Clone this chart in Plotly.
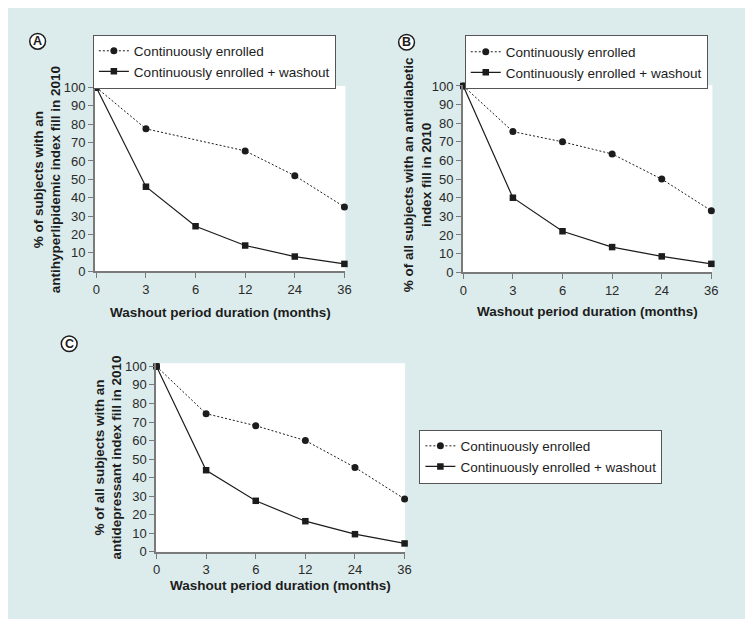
import plotly.graph_objects as go

# Page is 753x627; the browser's default 8px body margin surrounds the figure.
PAGE_W, PAGE_H, OFF = 753, 627, 8
W, H = PAGE_W - 2 * OFF, PAGE_H - 2 * OFF

months = ["0", "3", "6", "12", "24", "36"]
y_ticks = [0, 10, 20, 30, 40, 50, 60, 70, 80, 90, 100]

series_names = ["Continuously enrolled", "Continuously enrolled + washout"]

a_cont = [100, 77.5, None, 65.5, 52, 35]
a_wash = [100, 46, 24.5, 14, 8, 4]
b_cont = [100, 75.5, 70, 63.5, 50, 33]
b_wash = [100, 40, 22, 13.5, 8.5, 4.5]
c_cont = [100, 74.5, 68, 60, 45.5, 28.5]
c_wash = [100, 44, 27.5, 16.5, 9.5, 4.5]

x_title = "Washout period duration (months)"
y_titles = [
    "% of subjects with an<br>antihyperlipidemic index fill in 2010",
    "% of all subjects with an antidiabetic<br>index fill in 2010",
    "% of all subjects with an<br>antidepressant index fill in 2010",
]
panel_letters = ["A", "B", "C"]

FONT = "Liberation Sans, Arial, Helvetica, sans-serif"
INK = "#1c1c1c"
AXIS = "#7a7a7a"
TEAL = "#dcecec"


def px_x(p):
    return (p - OFF) / W


def px_y(p):
    return 1 - (p - OFF) / H


fig = go.Figure()

panels = [
    (a_cont, a_wash, "x", "y", "legend"),
    (b_cont, b_wash, "x2", "y2", "legend2"),
    (c_cont, c_wash, "x3", "y3", "legend3"),
]

for cont, wash, xa, ya, lg in panels:
    fig.add_trace(go.Scatter(
        x=months, y=cont, name=series_names[0], mode="lines+markers",
        xaxis=xa, yaxis=ya, legend=lg, connectgaps=True, cliponaxis=False,
        line=dict(color=INK, width=1, dash="2px,2px"),
        marker=dict(symbol="circle", size=7, color=INK),
    ))
    fig.add_trace(go.Scatter(
        x=months, y=wash, name=series_names[1], mode="lines+markers",
        xaxis=xa, yaxis=ya, legend=lg, cliponaxis=False,
        line=dict(color=INK, width=1.2),
        marker=dict(symbol="square", size=6.5, color=INK),
    ))

# geometry (page pixels): x-left, x-right, y-top, y-bottom, x-range, y-range
geo = [
    (93, 347, 80.7, 270.7, [-0.03, 5.02], [0, 100.85]),
    (466, 719, 80.0, 271.7, [-0.01, 5.02], [0, 100.4]),
    (155, 407.5, 365.0, 558.3, [-0.01, 5.01], [0, 101.7]),
]

axis_common = dict(
    showline=True, linecolor=AXIS, linewidth=1.5, ticks="outside", ticklen=5,
    tickwidth=1.2, tickcolor=AXIS, showgrid=False, zeroline=False,
    tickfont=dict(family=FONT, size=13, color="#2a2a2a"), fixedrange=True,
)

for i, (xl, xr, yt, yb, xr_, yr_) in enumerate(geo):
    sfx = "" if i == 0 else str(i + 1)
    fig.update_layout(**{
        "xaxis" + sfx: dict(
            domain=[px_x(xl), px_x(xr)], anchor="y" + sfx, type="category",
            range=xr_, categoryorder="array", categoryarray=months, **axis_common),
        "yaxis" + sfx: dict(
            domain=[px_y(yb), px_y(yt)], anchor="x" + sfx, range=yr_,
            tickvals=y_ticks, **axis_common),
    })

annotations = []
for cx, cy in [(220, 313), (592, 312), (281, 593)]:
    annotations.append(dict(
        text="<b>" + x_title + "</b>", x=px_x(cx), y=px_y(cy), xref="paper", yref="paper",
        xanchor="center", yanchor="middle", showarrow=False,
        font=dict(family=FONT, size=13.5, color=INK)))
for t, (cx, cy) in zip(y_titles, [(45, 177), (421, 172), (107, 462)]):
    annotations.append(dict(
        text="<b>" + t + "</b>", x=px_x(cx), y=px_y(cy), xref="paper", yref="paper",
        xanchor="center", yanchor="middle", textangle=-90, showarrow=False,
        font=dict(family=FONT, size=13.5, color=INK)))

shapes = []
for letter, (cx, cy) in zip(panel_letters, [(35, 35), (409, 36), (67, 345)]):
    r = 8
    shapes.append(dict(type="circle", xref="paper", yref="paper",
                       x0=px_x(cx - r), x1=px_x(cx + r), y0=px_y(cy + r), y1=px_y(cy - r),
                       fillcolor="white", line=dict(color=INK, width=1.5)))
    annotations.append(dict(
        text="<b>" + letter + "</b>", x=px_x(cx), y=px_y(cy), xref="paper", yref="paper",
        xanchor="center", yanchor="middle", showarrow=False,
        font=dict(family=FONT, size=12.5, color=INK)))

legend_common = dict(
    bgcolor="white", bordercolor="#555555", borderwidth=1,
    font=dict(family=FONT, size=13.5, color=INK), xanchor="left", yanchor="top",
    itemwidth=30, tracegroupgap=0,
)

fig.update_layout(
    width=W, height=H, margin=dict(l=0, r=0, t=0, b=0),
    paper_bgcolor=TEAL, plot_bgcolor="white", showlegend=True,
    font=dict(family=FONT, color=INK),
    legend=dict(x=px_x(91), y=px_y(28), **legend_common),
    legend2=dict(x=px_x(468), y=px_y(29), **legend_common),
    legend3=dict(x=px_x(422), y=px_y(433), **legend_common),
    shapes=shapes, annotations=annotations,
)

fig.write_html("out.html", config={"displayModeBar": False})
